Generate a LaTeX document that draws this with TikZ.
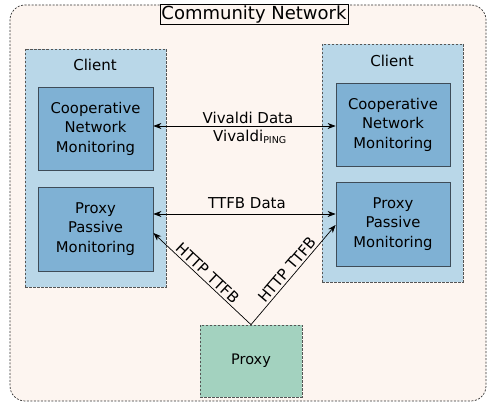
\documentclass[tikz,border=0pt]{standalone}
\usepackage{fontspec}
\setmainfont{DejaVu Sans}
\usetikzlibrary{arrows.meta}
\definecolor{netbg}{HTML}{FDF5F0}
\definecolor{clientbg}{HTML}{B9D7E8}
\definecolor{modbg}{HTML}{7FB1D4}
\definecolor{modline}{HTML}{3E4C58}
\definecolor{proxybg}{HTML}{A3D2BF}
\definecolor{dashline}{HTML}{555555}
\tikzset{
  netbox/.style={draw=black!80, dashed, dash pattern=on 2pt off 1.5pt, fill=netbg, rounded corners=15pt, line width=0.7pt},
  titlebox/.style={draw=black, fill=netbg, line width=0.7pt, inner sep=1.5pt, font=\fontsize{18}{20}\selectfont},
  clientbox/.style={draw=dashline, dashed, dash pattern=on 2.5pt off 1.5pt, fill=clientbg, line width=0.7pt, minimum width=141pt, minimum height=238pt},
  modbox/.style={draw=modline, fill=modbg, line width=0.8pt, align=center, minimum width=115pt, minimum height=83pt, font=\fontsize{14.8}{19.5}\selectfont},
  proxybox/.style={draw=dashline, dashed, dash pattern=on 2.5pt off 1.5pt, fill=proxybg, line width=0.7pt, minimum width=102pt, minimum height=72pt, font=\fontsize{14.5}{17}\selectfont},
  lbl/.style={font=\fontsize{15}{17}\selectfont, inner sep=1pt},
  link/.style={line width=0.7pt, {Stealth[length=8pt,width=6pt,inset=2.5pt]}-{Stealth[length=8pt,width=6pt,inset=2.5pt]}},
  feed/.style={line width=0.7pt, -{Stealth[length=8pt,width=6pt,inset=2.5pt]}}
}
\begin{document}
\begin{tikzpicture}[x=1pt,y=-1pt]
\useasboundingbox (0,0) rectangle (488,403);

% community network container
\node[netbox, minimum width=476pt, minimum height=396pt] (net) at (248,203) {};
\node[titlebox] (title) at (254,14.5) {Community Network};

% the two clients
\node[clientbox] (lclient) at (95.5,168) {};
\node[clientbox] (rclient) at (392.5,163) {};
\node[lbl] (lclientlbl) at (95,65) {Client};
\node[lbl] (rclientlbl) at (392,61) {Client};

\node[modbox] (lcoop) at (95.5,128.5) {Cooperative\\Network\\Monitoring};
\node[modbox, minimum height=84pt] (lpp) at (95.5,229) {Proxy\\Passive\\Monitoring};
\node[modbox, minimum width=114pt] (rcoop) at (393,124.5) {Cooperative\\Network\\Monitoring};
\node[modbox, minimum width=114pt, minimum height=84pt] (rpp) at (393,224) {Proxy\\Passive\\Monitoring};

% proxy
\node[proxybox] (proxy) at (251,361) {Proxy};

% exchanges between clients
\coordinate (vy) at (0,126);
\coordinate (ty) at (0,214);
\draw[link] (lcoop.east |- vy) -- (rcoop.west |- vy);
\node[lbl] (vdata) at (248,118) {Vivaldi Data};
\node[lbl] (vping) at (250,137) {Vivaldi\textsubscript{\fontsize{9.5}{10}\selectfont PING}};
\draw[link] (lpp.east |- ty) -- (rpp.west |- ty);
\node[lbl] (tdata) at (247,203) {TTFB Data};

% proxy measurements
\coordinate (ltip) at ([yshift=-4pt]lpp.east);
\coordinate (rtip) at ([yshift=-1pt]rpp.west);
\draw[feed] (proxy.north) -- node[lbl, sloped, above=1pt] {HTTP TTFB} (ltip);
\draw[feed] (proxy.north) -- node[lbl, sloped, above=1pt] {HTTP TTFB} (rtip);
\end{tikzpicture}
\end{document}
